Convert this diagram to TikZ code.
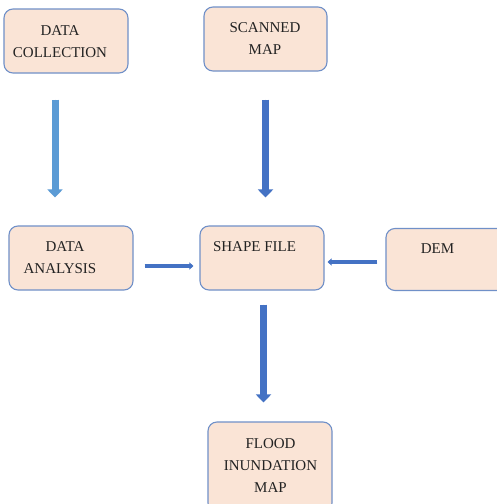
\documentclass[tikz,border=0pt]{standalone}
\usepackage{fontspec}
\setmainfont{Liberation Serif}
\usetikzlibrary{arrows.meta}
\definecolor{boxfill}{HTML}{FAE4D6}
\definecolor{boxline}{HTML}{7090C8}
\definecolor{arrdark}{HTML}{4472C4}
\definecolor{arrlight}{HTML}{5B9BD5}
\definecolor{txt}{HTML}{222222}
\tikzset{
  box/.style={draw=boxline, line width=1.1pt, fill=boxfill, rounded corners=9pt, inner sep=0pt},
  lbl/.style={text=txt, align=center, inner sep=0pt, font=\fontsize{15}{22}\selectfont},
  varr/.style={line width=7pt, -{Triangle[width=15pt,length=8pt]}},
  harr/.style={line width=3.5pt, -{Triangle[width=7pt,length=4pt]}},
}
\begin{document}
\begin{tikzpicture}[x=1pt,y=-1pt]
\clip (0,0) rectangle (497,504);
\fill[white] (0,0) rectangle (497,504);
% boxes
\node[box, minimum width=124pt, minimum height=64pt] (dc) at (66,41) {};
\node[box, minimum width=123pt, minimum height=64pt] (sm) at (265.5,39) {};
\node[box, minimum width=124pt, minimum height=64pt] (da) at (71,258) {};
\node[box, minimum width=124pt, minimum height=64pt] (sf) at (262,258) {};
\node[box, minimum width=124pt, minimum height=62pt] (dem) at (448,259.5) {};
\node[box, minimum width=124pt, minimum height=90pt] (fim) at (270,467) {};
% labels
\node[lbl] (tdc) at (60,41.5) {DATA\\COLLECTION};
\node[lbl] (tsm) at (265,39) {SCANNED\\MAP};
\node[lbl] (tda) at (60,258) {\hspace*{10pt}DATA\\ANALYSIS};
\node[lbl] (tsf) at (254.5,246.5) {SHAPE FILE};
\node[lbl] (tdem) at (437.5,248.5) {DEM};
\node[lbl] (tfim) at (270.5,466) {FLOOD\\INUNDATION\\MAP};
% arrows
\draw[varr, draw=arrlight, fill=arrlight, shorten <=26pt, shorten >=28pt]
  ([xshift=-11pt]dc.south) -- ([xshift=-11pt]dc.south |- da.north);
\draw[varr, draw=arrdark, fill=arrdark, shorten <=28pt, shorten >=28pt]
  (sm.south) -- (sm.south |- sf.north);
\draw[harr, draw=arrdark, fill=arrdark, shorten <=11pt, shorten >=6pt]
  ([yshift=-8pt]da.east) -- ([yshift=-8pt]da.east -| sf.west);
\draw[harr, draw=arrdark, fill=arrdark, line width=4pt, shorten <=8pt, shorten >=3pt]
  ([yshift=-2.5pt]dem.west) -- ([yshift=-2.5pt]dem.west -| sf.east);
\draw[varr, draw=arrdark, fill=arrdark, shorten <=14pt, shorten >=19pt]
  ([xshift=1.5pt]sf.south) -- ([xshift=1.5pt]sf.south |- fim.north);
\end{tikzpicture}
\end{document}
